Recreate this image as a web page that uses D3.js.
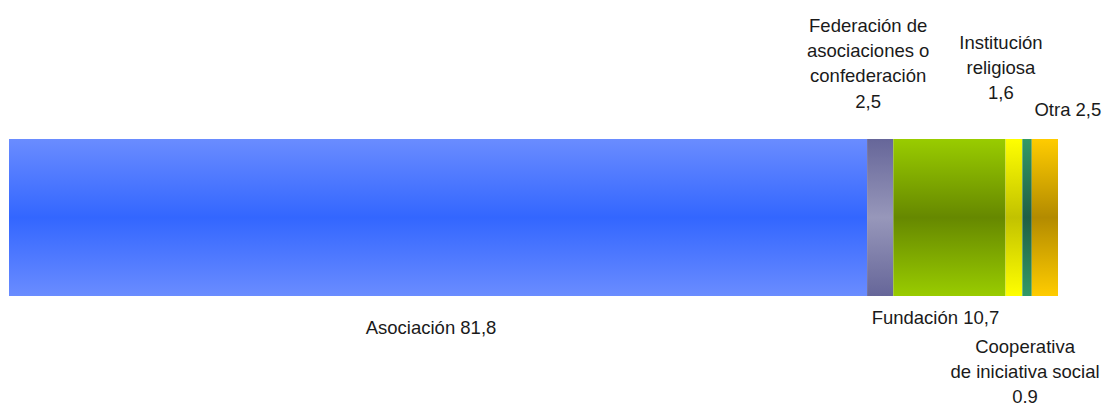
<!DOCTYPE html>
<html>
<head>
<meta charset="utf-8">
<script src="https://cdn.jsdelivr.net/npm/d3@7"></script>
<style>
  html, body { margin: 0; padding: 0; background: #fff; }
  svg { display: block; }
  text { font-family: "Liberation Sans", Arial, sans-serif; font-size: 18.5px; fill: #1a1a1a; }
</style>
</head>
<body>
<svg id="chart" width="1104" height="403"></svg>
<script>
// Entity types and their share (%)
const categories = [
  "Asociación",
  "Federación de asociaciones o confederación",
  "Fundación",
  "Institución religiosa",
  "Cooperativa de iniciativa social",
  "Otra"
];
const values = [81.8, 2.5, 10.7, 1.6, 0.9, 2.5];
const valueLabels = ["81,8", "2,5", "10,7", "1,6", "0.9", "2,5"];

// Label text lines for each segment
const labelLines = [
  ["Asociación 81,8"],
  ["Federación de", "asociaciones o", "confederación", "2,5"],
  ["Fundación 10,7"],
  ["Institución", "religiosa", "1,6"],
  ["Cooperativa", "de iniciativa social", "0.9"],
  ["Otra 2,5"]
];

// Gradient colours per segment: edge (top/bottom) and middle
const edgeColors = ["#6a8cff", "#666699", "#99cc00", "#ffff00", "#339966", "#ffcc00"];
const midColors  = ["#3366ff", "#9797ba", "#668800", "#c2c200", "#1f5f45", "#b38b00"];

const svg = d3.select("#chart");
const width = 1104, height = 403;

const x = d3.scaleLinear().domain([0, 100]).range([9, 1058]);
const barTop = 139, barHeight = 157;

// cumulative starts
let acc = 0;
const segs = values.map((v, i) => {
  const s = { i, start: acc, end: acc + v, value: v, name: categories[i] };
  acc += v;
  return s;
});

const defs = svg.append("defs");
segs.forEach(s => {
  const g = defs.append("linearGradient")
    .attr("id", "grad" + s.i)
    .attr("x1", 0).attr("y1", 0).attr("x2", 0).attr("y2", 1);
  g.append("stop").attr("offset", "0%").attr("stop-color", edgeColors[s.i]);
  g.append("stop").attr("offset", "50%").attr("stop-color", midColors[s.i]);
  g.append("stop").attr("offset", "100%").attr("stop-color", edgeColors[s.i]);
});

svg.append("g").selectAll("rect")
  .data(segs)
  .join("rect")
  .attr("x", d => x(d.start))
  .attr("y", barTop)
  .attr("width", d => x(d.end) - x(d.start))
  .attr("height", barHeight)
  .attr("fill", d => `url(#grad${d.i})`);

// Label placement: offset from segment centre (dx) and first-line centre y
const labelLayout = [
  { dx: -7,  y: 327 },
  { dx: -12, y: 25 },
  { dx: -14, y: 317 },
  { dx: -13, y: 42 },
  { dx: -2,  y: 346 },
  { dx: 23,  y: 109 }
];
const lineStep = 25.3;

const labels = svg.append("g").selectAll("text")
  .data(segs)
  .join("text")
  .attr("text-anchor", "middle")
  .attr("transform", d => {
    const cx = x((d.start + d.end) / 2) + labelLayout[d.i].dx;
    return `translate(${cx},${labelLayout[d.i].y})`;
  });

labels.selectAll("tspan")
  .data(d => labelLines[d.i])
  .join("tspan")
  .attr("x", 0)
  .attr("y", (l, j) => j * lineStep)
  .attr("dy", "0.36em")
  .text(l => l);
</script>
</body>
</html>
